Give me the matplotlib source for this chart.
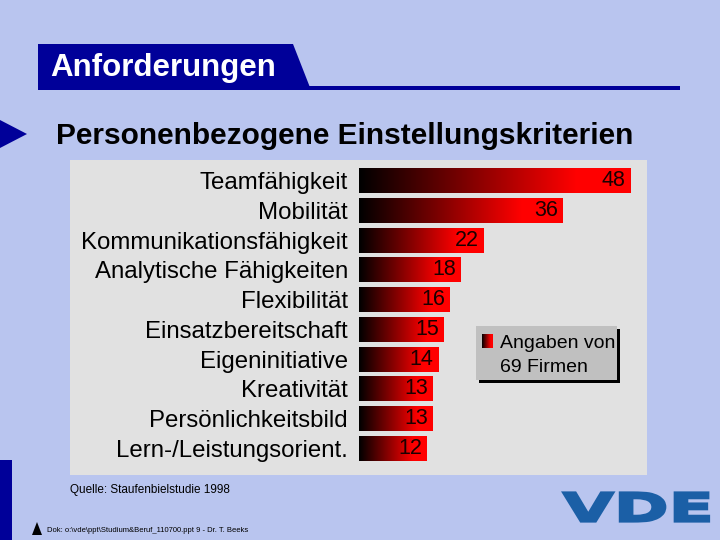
import numpy as np
import matplotlib
matplotlib.use('Agg')
import matplotlib.pyplot as plt
from matplotlib.colors import LinearSegmentedColormap
from matplotlib.patches import Rectangle, Polygon, PathPatch
from matplotlib.textpath import TextPath
from matplotlib.font_manager import FontProperties
from matplotlib.transforms import Affine2D

# Daten
categories = ['Teamfähigkeit', 'Mobilität', 'Kommunikationsfähigkeit',
              'Analytische Fähigkeiten', 'Flexibilität', 'Einsatzbereitschaft',
              'Eigeninitiative', 'Kreativität', 'Persönlichkeitsbild',
              'Lern-/Leistungsorient.']
values = [48, 36, 22, 18, 16, 15, 14, 13, 13, 12]

title = 'Anforderungen'
subtitle = 'Personenbezogene Einstellungskriterien'
legend_lines = ['Angaben von', '69 Firmen']
source = 'Quelle: Staufenbielstudie 1998'
footer = 'Dok: o:\\vde\\ppt\\Studium&Beruf_110700.ppt 9 - Dr. T. Beeks'

plt.rcParams['font.family'] = ['Liberation Sans', 'DejaVu Sans']

bg = '#B9C5EF'
navy = '#000099'
panel = '#E1E1E1'
cmap = LinearSegmentedColormap.from_list(
    'rot', [(0, '#000000'), (0.8, '#FF0000'), (1, '#FF0000')])
grad = np.linspace(0, 1, 256).reshape(1, -1)

fig = plt.figure(figsize=(7.2, 5.4), dpi=100)
fig.patch.set_facecolor(bg)

# Hintergrund-Ebene in Pixelkoordinaten
deco = fig.add_axes([0, 0, 1, 1])
deco.axis('off')

deco.add_patch(Rectangle((70, 160), 577, 315, facecolor=panel, edgecolor='none'))
deco.add_patch(Polygon([(38, 44), (293, 44), (311, 90), (38, 90)],
                       closed=True, facecolor=navy, edgecolor='none'))
deco.add_patch(Rectangle((38, 86), 642, 4, facecolor=navy, edgecolor='none'))
deco.add_patch(Polygon([(0, 120), (27, 134), (0, 148)], facecolor=navy, edgecolor='none'))
deco.add_patch(Rectangle((0, 460), 12, 80, facecolor=navy, edgecolor='none'))
deco.add_patch(Polygon([(32, 535), (37, 522), (42, 535)], facecolor='black', edgecolor='none'))

deco.text(50, 68, title, color='white', fontsize=22.5, fontweight='bold', va='center', ha='left')
deco.text(56, 136, subtitle, fontsize=21.5, fontweight='bold', va='center', ha='left')
deco.text(70, 490, source, fontsize=8.5, va='center', ha='left')
deco.text(47, 531, footer, fontsize=5.5, va='center', ha='left')

# Legendenkasten
deco.add_patch(Rectangle((479, 329), 141, 54, facecolor='black', edgecolor='none', zorder=2))
deco.add_patch(Rectangle((476, 326), 141, 54, facecolor='#C0C0C0', edgecolor='none', zorder=2))
deco.imshow(grad, cmap=cmap, aspect='auto', extent=[482, 493, 348, 334], zorder=3)
for i, line in enumerate(legend_lines):
    deco.text(500, 343 + 24 * i, line, fontsize=14, va='center', ha='left', zorder=3)

# VDE Logo
fp = FontProperties(family='DejaVu Sans', weight='bold')
tp = TextPath((0, 0), 'VDE', size=1, prop=fp)
ext = tp.get_extents()
tr = Affine2D().translate(-ext.x0, -ext.y0).scale(146 / ext.width, -29 / ext.height).translate(563, 521.5)
deco.add_patch(PathPatch(tr.transform_path(tp), facecolor='#1B5FA6', edgecolor='#1B5FA6',
                         linewidth=1.6))

deco.set_xlim(0, 720)
deco.set_ylim(540, 0)

# Balkendiagramm
ax = fig.add_axes([359 / 720, 1 - 463 / 540, 288 / 720, 297 / 540])
ax.patch.set_alpha(0)
y = np.arange(len(categories))
bars = ax.barh(y, values, height=0.84, color='none', edgecolor='none')
for bar, v in zip(bars, values):
    x0, y0 = bar.get_x(), bar.get_y()
    im = ax.imshow(grad, cmap=cmap, aspect='auto', interpolation='bilinear',
                   extent=[x0, x0 + bar.get_width(), y0, y0 + bar.get_height()])
    im.set_clip_path(bar)
    ax.text(v - 0.8, y0 + bar.get_height() / 2, str(v), ha='right', va='center',
            fontsize=15.5, color='#1A0000')

ax.set_xlim(0, 51)
ax.set_ylim(9.5, -0.5)
ax.set_yticks(y, categories, fontsize=17.3)
ax.tick_params(axis='y', length=0, pad=8)
ax.set_xticks([])
for s in ax.spines.values():
    s.set_visible(False)

fig.savefig('out.png', dpi=100, facecolor=bg)
